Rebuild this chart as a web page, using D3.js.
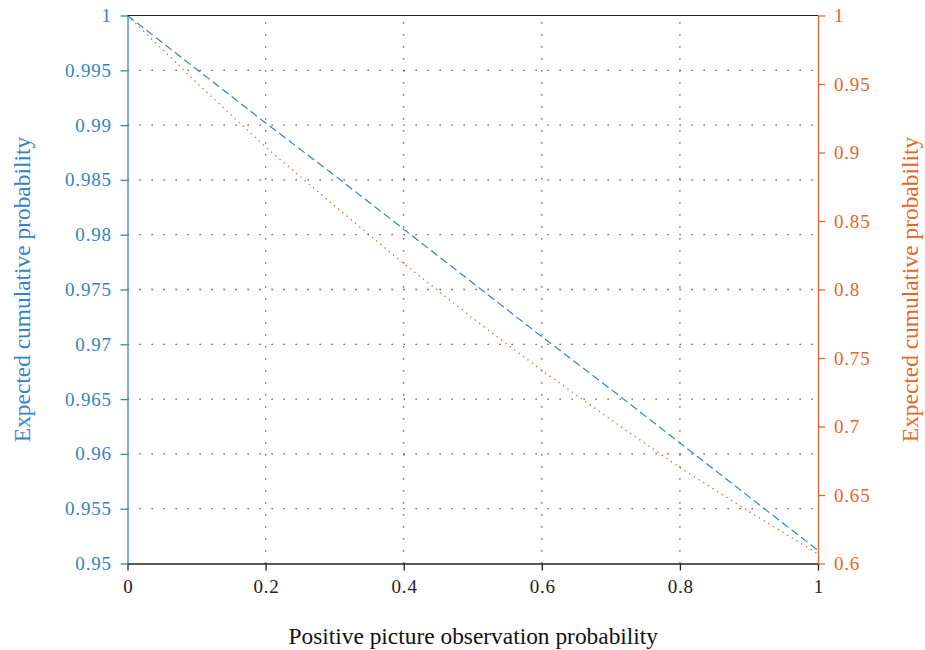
<!DOCTYPE html>
<html>
<head>
<meta charset="utf-8">
<script src="https://cdn.jsdelivr.net/npm/d3@7"></script>
<style>
  body { margin: 0; background: #fff; }
  svg text { font-family: "Liberation Serif", "Times New Roman", serif; }
</style>
</head>
<body>
<svg id="chart" width="925" height="650"></svg>
<script>
// values
const pValues = [0, 0.1, 0.2, 0.3, 0.4, 0.5, 0.6, 0.7, 0.8, 0.9, 1];
const leftSeries = [1, 0.9951, 0.9902, 0.9854, 0.9805, 0.9756, 0.9707, 0.9659, 0.9610, 0.9561, 0.9512];
const rightSeries = [1, 0.951, 0.904, 0.861, 0.819, 0.779, 0.741, 0.705, 0.670, 0.638, 0.607];
const xTicks = [0, 0.2, 0.4, 0.6, 0.8, 1];
const leftTicks = [0.95, 0.955, 0.96, 0.965, 0.97, 0.975, 0.98, 0.985, 0.99, 0.995, 1];
const rightTicks = [0.6, 0.65, 0.7, 0.75, 0.8, 0.85, 0.9, 0.95, 1];

const blue = '#3384c6';
const orange = '#e6652a';

const svg = d3.select('#chart');
const x0 = 127.5, x1 = 818, yTop = 15.5, yBot = 563.5;
const tickFont = 19;
const ls = 0.8;

const x = d3.scaleLinear().domain([0, 1]).range([x0, x1]);
const yL = d3.scaleLinear().domain([0.95, 1]).range([yBot, yTop]);
const yR = d3.scaleLinear().domain([0.6, 1]).range([yBot, yTop]);

// grid
const grid = svg.append('g').attr('class', 'grid');
grid.selectAll('line.h').data(leftTicks.slice(1, -1)).enter().append('line')
  .attr('x1', x0).attr('x2', x1)
  .attr('y1', (d) => yL(d)).attr('y2', (d) => yL(d))
  .attr('stroke', '#444').attr('stroke-width', 1.3).attr('stroke-dasharray', '1.3,10.7');
grid.selectAll('line.v').data(xTicks.slice(1, -1)).enter().append('line')
  .attr('y1', yBot).attr('y2', yTop)
  .attr('x1', (d) => x(d)).attr('x2', (d) => x(d))
  .attr('stroke', '#444').attr('stroke-width', 1.3).attr('stroke-dasharray', '1.3,10.7');

// lines
const lineL = d3.line().x((d, i) => x(pValues[i])).y((d) => yL(d));
const lineR = d3.line().x((d, i) => x(pValues[i])).y((d) => yR(d));

svg.append('path').datum(rightSeries).attr('d', lineR)
  .attr('fill', 'none').attr('stroke', orange).attr('stroke-width', 1.3)
  .attr('stroke-dasharray', '1.3,4.2');
svg.append('path').datum(leftSeries).attr('d', lineL)
  .attr('fill', 'none').attr('stroke', blue).attr('stroke-width', 1.2)
  .attr('stroke-dasharray', '8,4');

// top border
svg.append('line').attr('x1', x0).attr('x2', x1).attr('y1', yTop).attr('y2', yTop)
  .attr('stroke', '#222').attr('stroke-width', 1.2);

// axes
function styleAxis(g, color) {
  g.attr('font-family', null).attr('font-size', null);
  g.selectAll('path.domain').attr('stroke', color).attr('stroke-width', 1.3);
  g.selectAll('.tick line').attr('stroke', color).attr('stroke-width', 1.3);
  g.selectAll('.tick text').attr('fill', color).style('font-size', tickFont + 'px')
    .style('letter-spacing', ls + 'px');
}

const xAxis = svg.append('g').attr('transform', `translate(0,${yBot})`)
  .call(d3.axisBottom(x).tickValues(xTicks).tickFormat(d3.format('~g')).tickSize(7).tickSizeOuter(0));
styleAxis(xAxis, '#222');
xAxis.selectAll('.tick text').attr('y', 29.5).attr('dy', 0).attr('dx', ls / 2);

const leftAxis = svg.append('g').attr('transform', `translate(${x0},0)`)
  .call(d3.axisLeft(yL).tickValues(leftTicks).tickFormat(d3.format('~g')).tickSize(7).tickSizeOuter(0).tickPadding(9.5 - ls));
styleAxis(leftAxis, blue);

const rightAxis = svg.append('g').attr('transform', `translate(${x1},0)`)
  .call(d3.axisRight(yR).tickValues(rightTicks).tickFormat(d3.format('~g')).tickSize(7).tickSizeOuter(0).tickPadding(9));
styleAxis(rightAxis, orange);

// axis titles
svg.append('text').attr('x', (x0 + x1) / 2 + 0.5).attr('y', 644)
  .attr('text-anchor', 'middle').attr('fill', '#111').style('font-size', '23.4px')
  .text('Positive picture observation probability');

svg.append('text').attr('transform', `translate(30,${(yTop + yBot) / 2}) rotate(-90)`)
  .attr('text-anchor', 'middle').attr('fill', blue).style('font-size', '23.4px')
  .text('Expected cumulative probability');

svg.append('text').attr('transform', `translate(918,${(yTop + yBot) / 2}) rotate(-90)`)
  .attr('text-anchor', 'middle').attr('fill', orange).style('font-size', '23.4px')
  .text('Expected cumulative probability');
</script>
</body>
</html>
